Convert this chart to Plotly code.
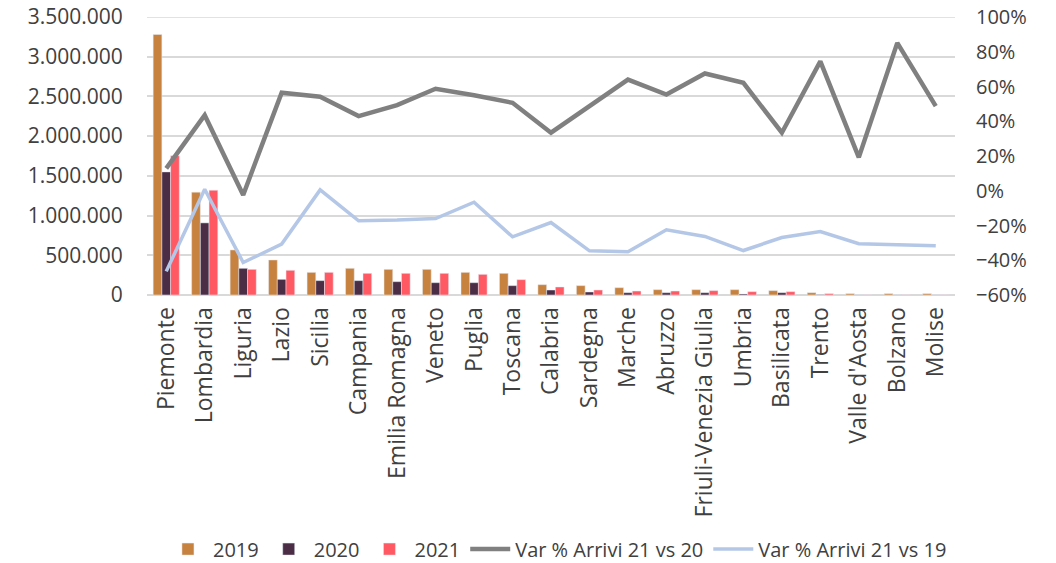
import plotly.graph_objects as go

regions = ["Piemonte", "Lombardia", "Liguria", "Lazio", "Sicilia", "Campania",
           "Emilia Romagna", "Veneto", "Puglia", "Toscana", "Calabria", "Sardegna",
           "Marche", "Abruzzo", "Friuli-Venezia Giulia", "Umbria", "Basilicata",
           "Trento", "Valle d'Aosta", "Bolzano", "Molise"]

arr_2019 = [3280000, 1295000, 567000, 441000, 285000, 336000, 323000, 323000, 285000,
            273000, 130000, 118000, 92000, 67000, 67000, 67000, 55000, 29000, 17000,
            17000, 17000]
arr_2020 = [1550000, 908000, 336000, 197000, 181000, 181000, 168000, 155000, 155000,
            118000, 63000, 38000, 29000, 29000, 29000, 13000, 29000, 4000, 1000,
            1000, 1000]
arr_2021 = [1754000, 1319000, 323000, 311000, 285000, 273000, 273000, 273000, 260000,
            193000, 101000, 63000, 50000, 50000, 55000, 42000, 42000, 17000, 2000,
            2000, 2000]

var_21_20 = [0.129, 0.435, -0.024, 0.564, 0.541, 0.430, 0.493, 0.587, 0.550, 0.506,
             0.334, 0.487, 0.640, 0.554, 0.675, 0.621, 0.334, 0.745, 0.192, 0.851,
             0.487]
var_21_19 = [-0.464, 0.009, -0.413, -0.307, 0.005, -0.173, -0.169, -0.160, -0.066,
             -0.265, -0.183, -0.346, -0.351, -0.225, -0.263, -0.344, -0.269, -0.235,
             -0.305, -0.311, -0.317]

left_ticks = [0, 500000, 1000000, 1500000, 2000000, 2500000, 3000000, 3500000]
right_ticks = [-0.6, -0.4, -0.2, 0, 0.2, 0.4, 0.6, 0.8, 1.0]

FONT = "Open Sans"
TXT = "#404040"
GRID = "#D9D9D9"

fig = go.Figure()
fig.add_trace(go.Bar(x=regions, y=arr_2019, name="2019", marker_color="#C8823F"))
fig.add_trace(go.Bar(x=regions, y=arr_2020, name="2020", marker_color="#4B2D45"))
fig.add_trace(go.Bar(x=regions, y=arr_2021, name="2021", marker_color="#FF5A64"))
fig.add_trace(go.Scatter(x=regions, y=var_21_20, name="Var % Arrivi 21 vs 20",
                         mode="lines", yaxis="y2",
                         line=dict(color="#808080", width=4.5)))
fig.add_trace(go.Scatter(x=regions, y=var_21_19, name="Var % Arrivi 21 vs 19",
                         mode="lines", yaxis="y2",
                         line=dict(color="#B4C7E7", width=3.5)))

# top gridline (at the top of the left axis range)
fig.add_shape(type="line", xref="paper", x0=0, x1=1, yref="y",
              y0=left_ticks[-1], y1=left_ticks[-1],
              line=dict(color=GRID, width=1.5), layer="below")

# page body has an 8px default margin, so the figure is offset by (8, 8)
fig.update_layout(
    width=1056, height=563,
    margin=dict(l=139, r=109, t=9, b=276, autoexpand=False),
    paper_bgcolor="white", plot_bgcolor="white",
    barmode="group", bargap=0.32, bargroupgap=0,
    separators=",.",
    font=dict(family=FONT, color=TXT, size=20),
    xaxis=dict(tickangle=-90, showgrid=False, showline=False, zeroline=False,
               ticks="outside", ticklen=2, tickcolor="rgba(0,0,0,0)",
               automargin=False,
               tickfont=dict(size=23, family=FONT, color=TXT)),
    yaxis=dict(range=[0, 3500000], tickvals=left_ticks, tickformat=",d",
               showgrid=True, gridcolor=GRID, gridwidth=1.5,
               zeroline=True, zerolinecolor=GRID, zerolinewidth=1.5,
               showline=False, ticks="outside", ticklen=19,
               tickcolor="rgba(0,0,0,0)", automargin=False,
               ticklabeloverflow="allow",
               tickfont=dict(size=21, family=FONT, color=TXT)),
    yaxis2=dict(range=[-0.6, 1.0], tickvals=right_ticks, tickformat=".0%",
                overlaying="y", side="right", showgrid=False, zeroline=False,
                showline=False, ticks="outside", ticklen=16,
                tickcolor="rgba(0,0,0,0)", automargin=False,
                ticklabeloverflow="allow",
                tickfont=dict(size=20, family=FONT, color=TXT)),
    legend=dict(orientation="h", x=0.508, y=-0.914, xanchor="center",
                yanchor="middle",
                font=dict(size=20, family=FONT, color=TXT),
                itemwidth=40, tracegroupgap=0, bgcolor="rgba(0,0,0,0)"),
    showlegend=True,
)

fig.write_html("out.html")
